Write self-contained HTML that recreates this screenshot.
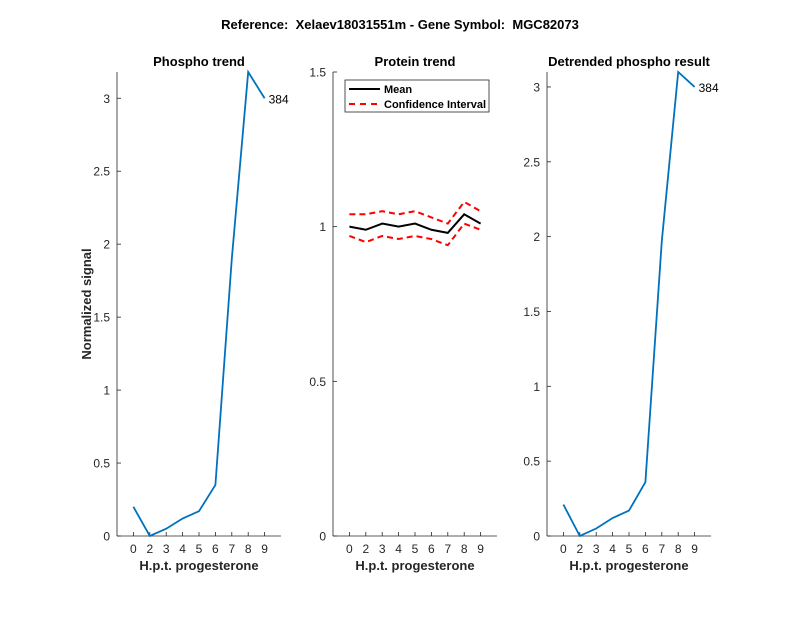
<!DOCTYPE html>
<html><head><meta charset="utf-8"><style>
body{margin:0;background:#fff;}
svg{display:block;font-family:"Liberation Sans",Arial,sans-serif;}
</style></head><body>
<svg id="fig" width="800" height="618" viewBox="0 0 800 618">
<rect width="800" height="618" fill="#fff"/>
<text x="400" y="29" text-anchor="middle" font-size="13" font-weight="bold" fill="#000" style="white-space:pre">Reference:  Xelaev18031551m - Gene Symbol:  MGC82073</text>
</svg>
<script>
const xLabels = ["0","2","3","4","5","6","7","8","9"];
const phospho = [0.2,0,0.05,0.12,0.17,0.35,1.9,3.18,3.0];
const proteinMean = [1.0,0.99,1.01,1.0,1.01,0.99,0.98,1.04,1.01];
const proteinUpper = [1.04,1.04,1.05,1.04,1.05,1.03,1.01,1.08,1.05];
const proteinLower = [0.97,0.95,0.97,0.96,0.97,0.96,0.94,1.01,0.99];
const detrended = [0.21,0,0.05,0.12,0.17,0.36,1.97,3.1,3.0];
const phosphoTicks = [0,0.5,1,1.5,2,2.5,3];
const proteinTicks = [0,0.5,1,1.5];
const detrTicks = [0,0.5,1,1.5,2,2.5,3];

const NS="http://www.w3.org/2000/svg";
const svg=document.getElementById('fig');
function mk(tag,attrs,parent){const e=document.createElementNS(NS,tag);for(const k in attrs)e.setAttribute(k,attrs[k]);(parent||svg).appendChild(e);return e;}

function panel(key,left,title,ymax,yticks,series,label,ylabelText){
  const top=72,bottom=536,width=164;
  const g=mk('g',{});
  
  
  const xs=i=>left+(i+1)/10*width;
  const ys=v=>bottom-v/ymax*(bottom-top);
  const t=mk('text',{x:left+width/2,y:66,'text-anchor':'middle','font-size':'13','font-weight':'bold'},g);
  t.textContent=title;
  
  
  const ya=mk('line',{x1:left,y1:top,x2:left,y2:bottom,stroke:'#262626','stroke-width':'0.8'},g);
  
  
  const xa=mk('line',{x1:left,y1:bottom,x2:left+width,y2:bottom,stroke:'#262626','stroke-width':'0.8'},g);
  
  
  yticks.forEach(v=>{
    mk('line',{x1:left,y1:ys(v),x2:left+4,y2:ys(v),stroke:'#262626','stroke-width':'0.8'},g);
    const tt=mk('text',{x:left-7,y:ys(v)+4.5,'text-anchor':'end','font-size':'12',fill:'#262626'},g);
    tt.textContent=String(v);
    
    
  });
  xLabels.forEach((l,i)=>{
    mk('line',{x1:xs(i),y1:bottom,x2:xs(i),y2:bottom-4,stroke:'#262626','stroke-width':'0.8'},g);
    const tt=mk('text',{x:xs(i),y:bottom+17,'text-anchor':'middle','font-size':'12',fill:'#262626'},g);
    tt.textContent=l;
    
    
  });
  const xl=mk('text',{x:left+width/2,y:bottom+34,'text-anchor':'middle','font-size':'13','font-weight':'bold',fill:'#262626'},g);
  xl.textContent='H.p.t. progesterone';
  
  
  if(ylabelText){
    const yl=mk('text',{x:0,y:0,transform:`translate(${left-26},${(top+bottom)/2}) rotate(-90)`,'text-anchor':'middle','font-size':'13','font-weight':'bold',fill:'#262626'},g);
    yl.textContent=ylabelText;
    
    
  }
  series.forEach(s=>{
    const p=mk('polyline',{points:s.data.map((v,i)=>xs(i)+','+ys(v)).join(' '),fill:'none',stroke:s.color,'stroke-width':s.w,'stroke-dasharray':s.dash||'none'},g);
    
    
  });
  if(label){
    const d=series[0].data;
    const lt=mk('text',{x:xs(d.length-1)+4,y:ys(d[d.length-1])+5,'font-size':'12',fill:'#000'},g);
    lt.textContent=label;
    
    
  }
  return g;
}
panel('phospho',117,'Phospho trend',3.18,phosphoTicks,[{data:phospho,color:'#0072BD',w:1.8,name:'phospho-line'}],'384','Normalized signal');
const pg=panel('protein',333,'Protein trend',1.5,proteinTicks,[
  {data:proteinMean,color:'#000',w:2,name:'mean-line'},
  {data:proteinUpper,color:'#f00',w:2,dash:'6 4',name:'ci-upper-line'},
  {data:proteinLower,color:'#f00',w:2,dash:'6 4',name:'ci-lower-line'}],null,null);
panel('detrended',547,'Detrended phospho result',3.1,detrTicks,[{data:detrended,color:'#0072BD',w:1.8,name:'detrended-line'}],'384',null);

const lg=mk('g',{},pg);


mk('rect',{x:345,y:80,width:144,height:32,fill:'#fff',stroke:'#262626','stroke-width':'0.8'},lg);
mk('line',{x1:349,y1:89,x2:380,y2:89,stroke:'#000','stroke-width':'2'},lg);
mk('line',{x1:349,y1:104,x2:380,y2:104,stroke:'#f00','stroke-width':'2','stroke-dasharray':'6 5'},lg);
const l1=mk('text',{x:384,y:93,'font-size':'11','font-weight':'bold'},lg);l1.textContent='Mean';


const l2=mk('text',{x:384,y:108,'font-size':'11','font-weight':'bold'},lg);l2.textContent='Confidence Interval';


</script>
</body></html>
